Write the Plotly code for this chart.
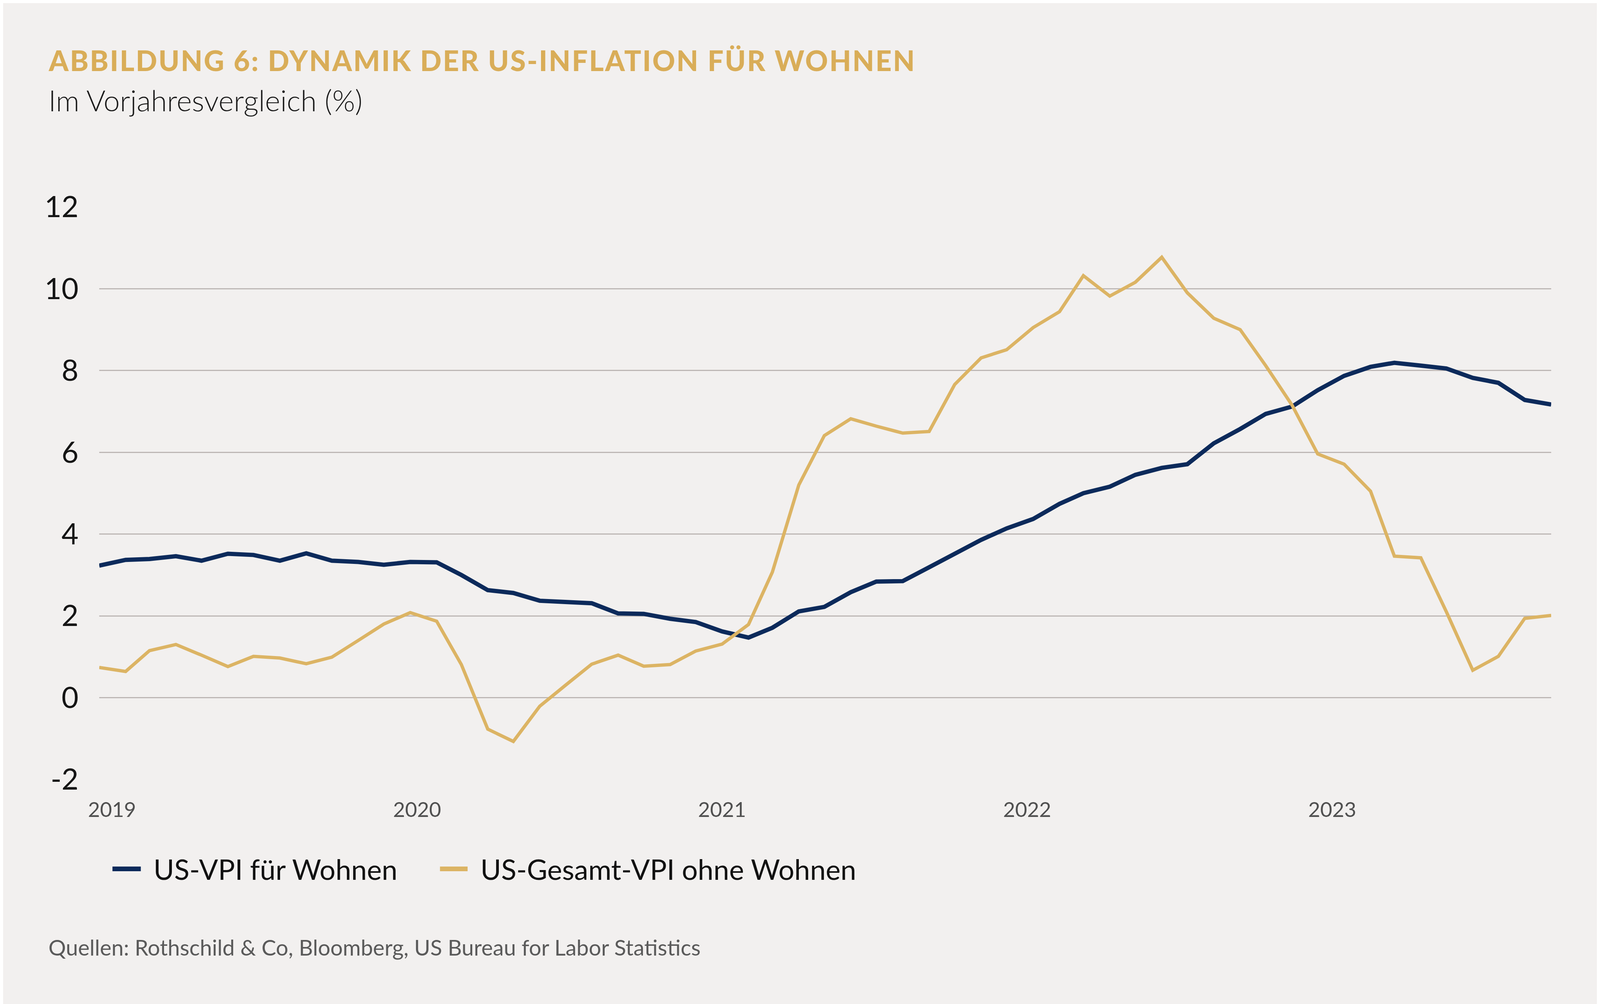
import pandas as pd
import plotly.graph_objects as go

# monthly year-on-year change (%), Jan 2019 - Sep 2023
months = pd.date_range("2019-01-01", "2023-09-01", freq="MS")

vpi_wohnen = [
    3.23, 3.37, 3.39, 3.46, 3.35, 3.52, 3.49, 3.35, 3.53, 3.35, 3.32, 3.25,
    3.32, 3.31, 3.00, 2.63, 2.56, 2.37, 2.34, 2.31, 2.06, 2.05, 1.93, 1.85,
    1.62, 1.47, 1.71, 2.11, 2.22, 2.58, 2.84, 2.85, 3.19, 3.51, 3.86, 4.14,
    4.37, 4.74, 5.00, 5.16, 5.45, 5.62, 5.71, 6.22, 6.57, 6.94, 7.12, 7.52,
    7.87, 8.09, 8.19, 8.12, 8.05, 7.82, 7.70, 7.28, 7.17,
]

vpi_ohne_wohnen = [
    0.74, 0.64, 1.15, 1.30, 1.04, 0.76, 1.01, 0.97, 0.83, 0.99, 1.40, 1.80,
    2.08, 1.87, 0.81, -0.77, -1.07, -0.21, 0.30, 0.82, 1.04, 0.77, 0.81, 1.14,
    1.31, 1.79, 3.07, 5.20, 6.41, 6.82, 6.64, 6.47, 6.51, 7.66, 8.31, 8.51,
    9.05, 9.44, 10.32, 9.82, 10.16, 10.77, 9.90, 9.28, 9.00, 8.12, 7.15, 5.96,
    5.71, 5.05, 3.46, 3.42, 2.10, 0.67, 1.01, 1.94, 2.01,
]

series_names = ["US-VPI für Wohnen", "US-Gesamt-VPI ohne Wohnen"]
year_labels = ["2019", "2020", "2021", "2022", "2023"]
y_ticks = [-2, 0, 2, 4, 6, 8, 10, 12]
y_tick_labels = ["-2", "0", "2", "4", "6", "8", "10", "12"]

NAVY = "#0c2a5b"
GOLD = "#dcb464"
BG = "#f2f0ef"

H = 2571
# plot area of the reference picture (page pixels)
PX0, PX1, PY0, PY1 = 258, 4097, 530, 1996


def px(x, y):
    # page pixel position -> paper coordinates
    return (x - PX0) / (PX1 - PX0), (PY1 - y) / (PY1 - PY0)


fig = go.Figure()
fig.add_trace(go.Scatter(x=months, y=vpi_wohnen, mode="lines", name=series_names[0],
                         line=dict(color=NAVY, width=11)))
fig.add_trace(go.Scatter(x=months, y=vpi_ohne_wohnen, mode="lines", name=series_names[1],
                         line=dict(color=GOLD, width=8.5)))

# year labels sit a little to the right of January
tick_pos = [months[0] + pd.Timedelta(days=15 + 358 * i) for i in range(len(year_labels))]

fig.update_layout(
    height=H,
    autosize=True,
    margin=dict(l=246, r=117, t=PY0 - 8, b=H - PY1 + 8, pad=0),
    paper_bgcolor=BG, plot_bgcolor=BG,
    font=dict(family="Lato, Open Sans, sans-serif", color="#111111"),
    showlegend=False,
    xaxis=dict(range=[months[0], months[-1]], tickvals=tick_pos, ticktext=year_labels,
               showgrid=False, showline=False, ticks="",
               tickfont=dict(size=53, color="#505050"), ticklabelstandoff=42),
    yaxis=dict(range=[-2, 12], tickvals=y_ticks, ticktext=y_tick_labels,
               showgrid=True, gridcolor="#bdb7b5", gridwidth=3,
               zeroline=False, showline=False, ticks="",
               tickfont=dict(size=75, color="#151515"), ticklabelstandoff=52),
)

# legend drawn by hand so the line keys have the reference length
legend_items = [(293, 368, 400, NAVY), (1159, 1232, 1264, GOLD)]
for name, (k0, k1, t0, col) in zip(series_names, legend_items):
    x0, ly = px(k0, 2225)
    x1, _ = px(k1, 2225)
    fig.add_shape(type="line", xref="paper", yref="paper", x0=x0, x1=x1, y0=ly, y1=ly,
                  line=dict(color=col, width=12))
    tx, _ = px(t0, 2225)
    fig.add_annotation(x=tx, y=ly, xref="paper", yref="paper", xanchor="left",
                       yanchor="middle", text=name, showarrow=False,
                       font=dict(size=72, color="#111111"))

tx, ty = px(122, 154)
fig.add_annotation(x=tx, y=ty, xref="paper", yref="paper", xanchor="left", yanchor="middle",
                   text='<span style="letter-spacing:3.4px">'
                        'ABBILDUNG 6: DYNAMIK DER US-INFLATION FÜR WOHNEN</span>',
                   showarrow=False,
                   font=dict(size=72, color="#d9ad58", family="Lato", weight=900))
sx, sy = px(122, 256)
fig.add_annotation(x=sx, y=sy, xref="paper", yref="paper", xanchor="left", yanchor="middle",
                   text="Im Vorjahresvergleich (%)", showarrow=False,
                   font=dict(size=75, color="#1a1a1a", family="Lato", weight=300))
qx, qy = px(122, 2425)
fig.add_annotation(x=qx, y=qy, xref="paper", yref="paper", xanchor="left", yanchor="middle",
                   text="Quellen: Rothschild & Co, Bloomberg, US Bureau for Labor Statistics",
                   showarrow=False, font=dict(size=56, color="#5a5a5a", family="Lato"))

fig.write_html("out.html")
